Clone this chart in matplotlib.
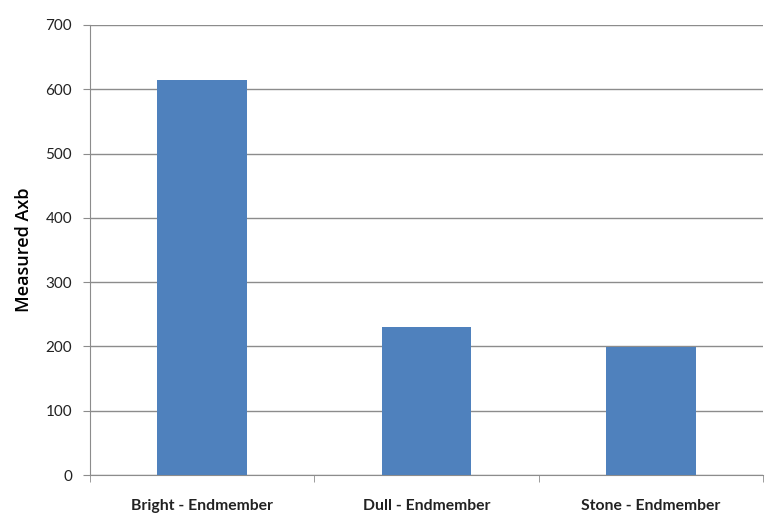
import matplotlib
matplotlib.use("Agg")
import matplotlib.pyplot as plt

categories = ["Bright - Endmember", "Dull - Endmember", "Stone - Endmember"]
values = [614, 231, 199]
y_ticks = [0, 100, 200, 300, 400, 500, 600, 700]

plt.rcParams['font.family'] = ['Lato', 'DejaVu Sans']

fig = plt.figure(figsize=(7.74, 5.2), dpi=100)
ax = fig.add_axes([0.1163, 0.0865, 0.8695, 0.8655])

x = list(range(len(categories)))
ax.bar(x, values, width=0.4, color='#4F81BD', zorder=3)

ax.set_xlim(-0.5, len(categories) - 0.5)
ax.set_ylim(0, 700)
ax.set_yticks(y_ticks)
ax.yaxis.grid(True, color='#8c8c8c', linewidth=1, zorder=0)

ax.set_xticks(x)
ax.set_xticklabels(categories, fontsize=11.3, fontweight='bold', color='#222222')
ax.set_xticks([i - 0.5 for i in range(len(categories) + 1)], minor=True)
ax.tick_params(axis='x', which='major', length=0, pad=17)
ax.tick_params(axis='x', which='minor', length=5, color='#8c8c8c', direction='out')
ax.tick_params(axis='y', length=5, color='#8c8c8c', labelsize=11, labelcolor='#222222', pad=8)

for side in ['top', 'right']:
    ax.spines[side].set_visible(False)
ax.spines['left'].set_color('#8c8c8c')
ax.spines['bottom'].set_color('#8c8c8c')

ax.set_ylabel("Measured Axb", fontsize=13, fontweight='semibold', labelpad=9,
              family=['Open Sans', 'DejaVu Sans'])

plt.savefig("out.png", dpi=100)
plt.close()
